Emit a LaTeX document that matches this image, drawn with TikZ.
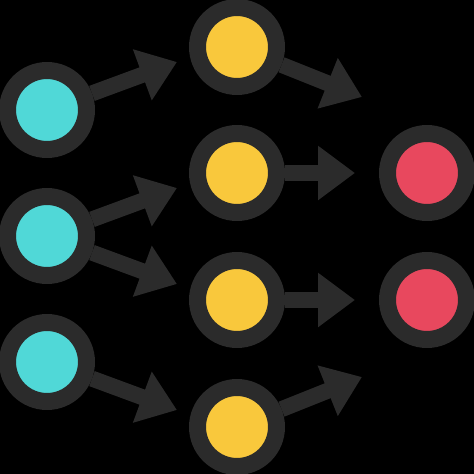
\documentclass[tikz,border=0pt]{standalone}
\usetikzlibrary{arrows.meta}
\definecolor{ringgray}{HTML}{2B2B2B}
\definecolor{incyan}{HTML}{50D8D7}
\definecolor{hidyellow}{HTML}{F9C83C}
\definecolor{outred}{HTML}{E8485E}
\tikzset{
	net/.style={x=0.02cm,y=-0.02cm,>={Triangle[length=0.74cm,width=1.04cm]},
		every edge/.style={draw=ringgray,line width=0.32cm}},
	unit/.style={circle,draw=ringgray,line width=0.34cm,minimum size=1.58cm,inner sep=0pt},
	inunit/.style={unit,fill=incyan},
	hidunit/.style={unit,fill=hidyellow},
	outunit/.style={unit,fill=outred}
}
\begin{document}
\begin{tikzpicture}[net]
	\fill[black] (0,0) rectangle (474,474);
	\useasboundingbox (0,0) rectangle (474,474);
	
	\node[inunit] (i1) at (47,110) {};
	\node[inunit] (i2) at (47,236) {};
	\node[inunit] (i3) at (47,362) {};
	
	\node[hidunit] (h1) at (237,47) {};
	\node[hidunit] (h2) at (237,173) {};
	\node[hidunit] (h3) at (237,300) {};
	\node[hidunit] (h4) at (237,427) {};
	
	\node[outunit] (o1) at (427,173) {};
	\node[outunit] (o2) at (427,300) {};
	
	% free arrow ends
	\coordinate (a1) at (177,62);
	\coordinate (a2) at (177,188);
	\coordinate (a3) at (177,284);
	\coordinate (a4) at (177,410);
	\coordinate (b1) at (362,97);
	\coordinate (b2) at (355,173);
	\coordinate (b3) at (355,300);
	\coordinate (b4) at (362,377);
	
	\path[->] (i1) edge (a1);
	\path[->] (i2) edge (a2);
	\path[->] (i2) edge (a3);
	\path[->] (i3) edge (a4);
	\path[->] (h1) edge (b1);
	\path[->] (h2) edge (b2);
	\path[->] (h3) edge (b3);
	\path[->] (h4) edge (b4);
\end{tikzpicture}
\end{document}
